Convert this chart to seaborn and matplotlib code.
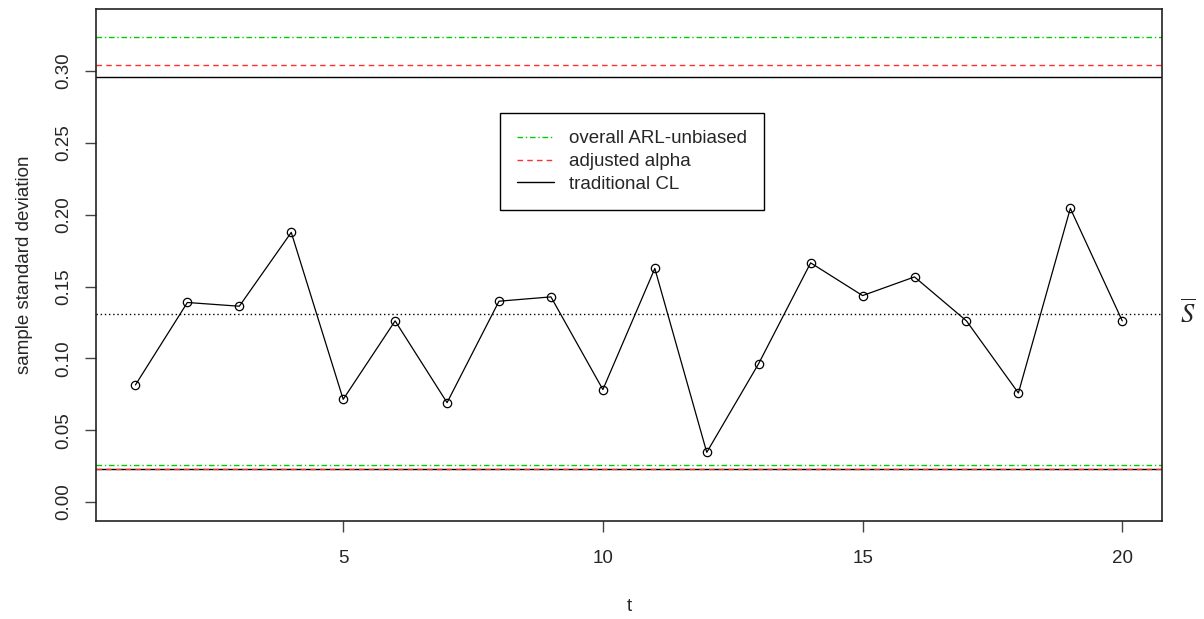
import numpy as np
import pandas as pd
import matplotlib
matplotlib.use('Agg')
import matplotlib.pyplot as plt
import seaborn as sns

# 数据
t = list(range(1, 21))
s = [0.0815, 0.1389, 0.1363, 0.1877, 0.0715, 0.1261, 0.0692, 0.1398, 0.1428, 0.0783,
     0.1626, 0.0346, 0.0964, 0.1665, 0.1437, 0.1567, 0.1261, 0.0759, 0.2044, 0.1261]
s_bar = 0.1310
# 控制限: 上, 下
limit_names = ['overall ARL-unbiased', 'adjusted alpha', 'traditional CL']
ucl = [0.3239, 0.3042, 0.2956]
lcl = [0.0256, 0.0230, 0.0230]
limit_colors = ['#00cd00', '#ff3030', 'black']
limit_styles = [(0, (4, 2, 1, 2)), (0, (4, 3)), '-']

df = pd.DataFrame({'t': t, 's': s})

sns.set_style('ticks')
plt.rcParams['font.family'] = ['Liberation Sans', 'DejaVu Sans']
plt.rcParams['mathtext.fontset'] = 'stix'

fig = plt.figure(figsize=(12.04, 6.19), dpi=100)
ax = fig.add_axes([0.0797, 0.1583, 0.8852, 0.8272])

# 先画传统的, 再画调整的, 最后画绿色
for i in [2, 1, 0]:
    ax.axhline(ucl[i], color=limit_colors[i], ls=limit_styles[i], lw=1, label=limit_names[i])
    ax.axhline(lcl[i], color=limit_colors[i], ls=limit_styles[i], lw=1)

ax.axhline(s_bar, color='black', ls=(0, (1, 2)), lw=1)

sns.lineplot(data=df, x='t', y='s', ax=ax, color='black', lw=0.9, marker='o',
             markersize=6, markerfacecolor='none', markeredgecolor='black',
             markeredgewidth=0.9)

ax.set_xlim(0.24, 20.76)
ax.set_ylim(-0.0132, 0.3432)
ax.set_xticks([5, 10, 15, 20])
ax.set_yticks([0, 0.05, 0.10, 0.15, 0.20, 0.25, 0.30])
ax.set_yticklabels(['0.00', '0.05', '0.10', '0.15', '0.20', '0.25', '0.30'],
                   rotation=90, va='center')
ax.tick_params(labelsize=13.5, length=8, width=1, color='#444444')
ax.tick_params(axis='x', pad=13)
ax.tick_params(axis='y', pad=9)
ax.set_xlabel('t', fontsize=13.5, labelpad=22)
ax.set_ylabel('sample standard deviation', fontsize=13.5, labelpad=16)
for sp in ax.spines.values():
    sp.set_linewidth(1.2)
    sp.set_color('#222222')

ax.text(1.024, s_bar, r'$\overline{S}$', transform=ax.get_yaxis_transform(),
        fontsize=19, va='center', ha='center')

handles, labels = ax.get_legend_handles_labels()
order = [labels.index(n) for n in limit_names]
leg = ax.legend([handles[i] for i in order], [labels[i] for i in order],
                loc='upper left', bbox_to_anchor=(0.379, 0.796), fontsize=13.5,
                frameon=True, fancybox=False, framealpha=1, edgecolor='black',
                handlelength=2.0, borderpad=0.9, labelspacing=0.3, handletextpad=0.8,
                borderaxespad=0)
leg.get_frame().set_linewidth(1)
for h in leg.get_lines():
    h.set_linewidth(1)

fig.savefig('out.png', dpi=100)
